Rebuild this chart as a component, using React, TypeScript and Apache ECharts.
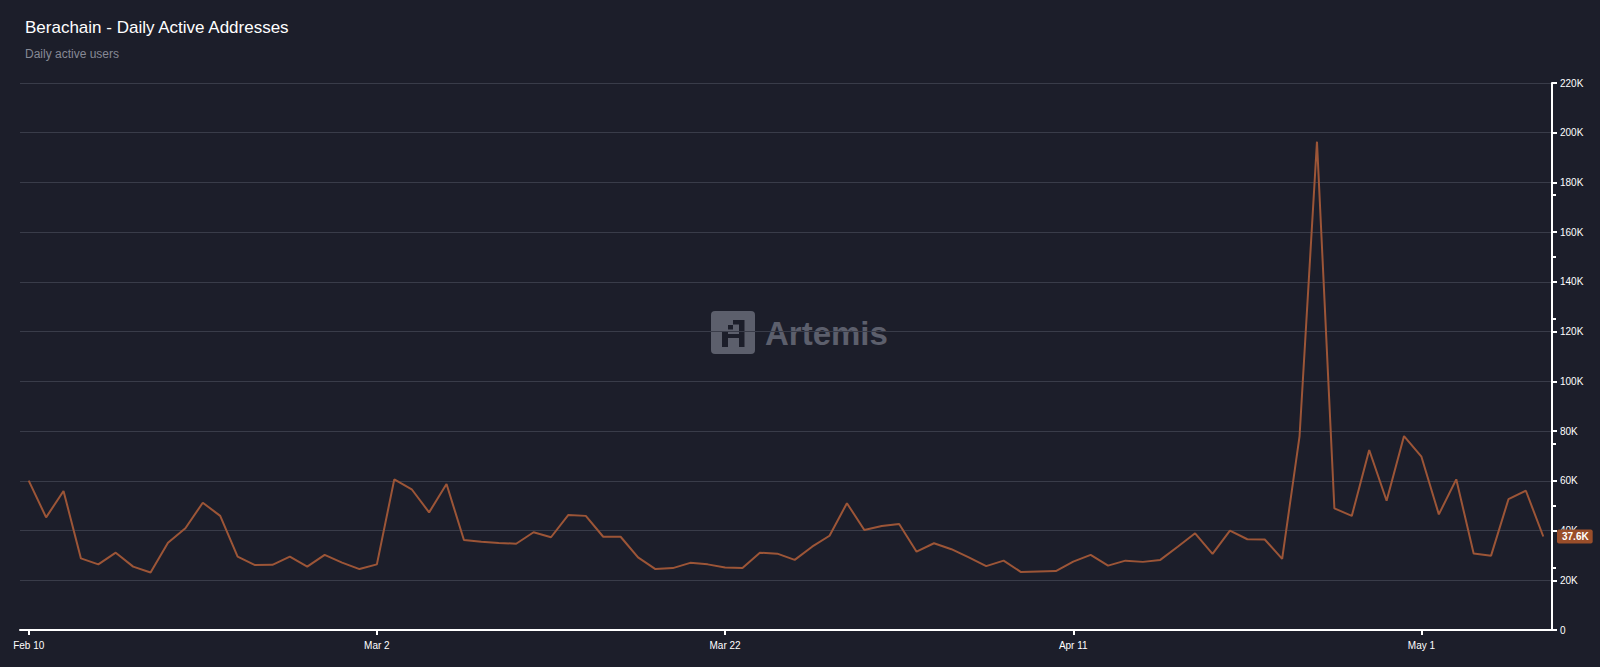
import React, { useEffect, useRef } from "react";
import * as echarts from "echarts";

const startDate = "2025-02-10";
const dayCount = 88;

// Daily active addresses, in thousands
const activeK: number[] = [
  60.1, 45.3, 55.9, 28.8, 26.4, 31.1, 25.5, 23.1, 35.1, 40.9,
  51.2, 45.9, 29.5, 26.1, 26.2, 29.5, 25.5, 30.2, 27.1, 24.5,
  26.4, 60.6, 56.6, 47.3, 58.7, 36.2, 35.5, 35.0, 34.7, 39.3,
  37.3, 46.3, 45.9, 37.5, 37.5, 29.2, 24.5, 24.9, 27.0, 26.4,
  25.1, 24.9, 31.1, 30.7, 28.2, 33.5, 37.9, 51.0, 40.2, 41.8,
  42.6, 31.5, 34.9, 32.5, 29.2, 25.7, 27.9, 23.3, 23.5, 23.7,
  27.5, 30.2, 25.9, 27.9, 27.4, 28.2, 33.5, 38.9, 30.6, 40.0,
  36.5, 36.4, 28.6, 78.0, 196.4, 48.9, 45.9, 72.4, 52.0, 78.0,
  69.7, 46.5, 60.6, 30.8, 29.9, 52.6, 56.0, 37.6,
];

const monthNames = ["Jan", "Feb", "Mar", "Apr", "May", "Jun", "Jul", "Aug", "Sep", "Oct", "Nov", "Dec"];

function buildDates(): string[] {
  const out: string[] = [];
  const d0 = new Date(startDate + "T00:00:00Z");
  for (let i = 0; i < dayCount; i++) {
    const d = new Date(d0.getTime() + i * 86400000);
    out.push(monthNames[d.getUTCMonth()] + " " + d.getUTCDate());
  }
  return out;
}

const dates = buildDates();
const values = activeK.map((v) => Math.round(v * 1000));
const lastValue = values[values.length - 1];

const BG = "#1c1e2a";
const LINE = "#9c5537";
const FONT = "'Liberation Sans', Arial, sans-serif";
const WM = "#5c5f6c";

export default function App() {
  const ref = useRef<HTMLDivElement>(null);
  useEffect(() => {
    if (!ref.current) return;
    const chart = echarts.init(ref.current, undefined, { renderer: "svg" });
    chart.setOption({
      animation: false,
      backgroundColor: BG,
      textStyle: { fontFamily: FONT },
      title: {
        text: "Berachain - Daily Active Addresses",
        subtext: "Daily active users",
        left: 20,
        top: 14,
        itemGap: 12,
        textStyle: { color: "#ffffff", fontSize: 17, fontWeight: "normal", fontFamily: FONT },
        subtextStyle: { color: "#868995", fontSize: 12, fontFamily: FONT },
      },
      grid: { left: 20, right: 48, top: 83, bottom: 37, containLabel: false },
      graphic: [
        {
          type: "group",
          silent: true,
          z: 0,
          children: [
            { type: "rect", shape: { x: 711, y: 311, width: 44, height: 43, r: 4 }, style: { fill: WM } },
            { type: "rect", shape: { x: 739, y: 320, width: 5.5, height: 27 }, style: { fill: BG } },
            { type: "rect", shape: { x: 733, y: 320, width: 11, height: 4.5 }, style: { fill: BG } },
            { type: "rect", shape: { x: 728, y: 325, width: 5, height: 4.5 }, style: { fill: BG } },
            { type: "rect", shape: { x: 722, y: 331, width: 6, height: 16 }, style: { fill: BG } },
            { type: "rect", shape: { x: 722, y: 334, width: 22, height: 4 }, style: { fill: BG } },
            {
              type: "text",
              x: 765,
              y: 333,
              style: {
                text: "Artemis",
                fill: WM,
                font: "bold 33px " + FONT,
                verticalAlign: "middle",
              },
            },
          ],
        },
      ],
      xAxis: {
        type: "category",
        data: dates,
        boundaryGap: true,
        axisLine: { show: true, lineStyle: { color: "#ffffff", width: 2 } },
        axisTick: { show: true, interval: 19, alignWithLabel: true, length: 5, lineStyle: { color: "#ffffff", width: 2 } },
        axisLabel: { interval: 19, color: "#ffffff", fontSize: 10, margin: 10, fontFamily: FONT },
        splitLine: { show: false },
      },
      yAxis: [
        {
          type: "value",
          position: "right",
          min: 0,
          max: 220000,
          interval: 20000,
          axisLine: { show: true, lineStyle: { color: "#ffffff", width: 2 } },
          axisTick: { show: true, length: 5, lineStyle: { color: "#ffffff", width: 2 } },
          axisLabel: {
            color: "#ffffff",
            fontSize: 10,
            margin: 8,
            fontFamily: FONT,
            formatter: (v: number) => (v === 0 ? "0" : v / 1000 + "K"),
          },
          splitLine: { show: true, lineStyle: { color: "#393c49", width: 1 } },
        },
        {
          type: "value",
          position: "right",
          min: 0,
          max: 220000,
          interval: 25000,
          axisLine: { show: false },
          axisTick: { show: true, length: 4, lineStyle: { color: "#ffffff", width: 2 } },
          axisLabel: { show: false },
          splitLine: { show: false },
        },
      ],
      series: [
        {
          type: "line",
          data: values,
          yAxisIndex: 0,
          showSymbol: false,
          symbol: "none",
          lineStyle: { color: LINE, width: 2 },
          itemStyle: { color: LINE },
          z: 3,
          markLine: {
            silent: true,
            symbol: "none",
            lineStyle: { color: "rgba(0,0,0,0)", width: 0 },
            data: [{ yAxis: lastValue }],
            label: {
              show: true,
              position: "end",
              distance: 5,
              formatter: (lastValue / 1000).toFixed(1) + "K",
              color: "#ffffff",
              fontSize: 10,
              fontWeight: "bold",
              backgroundColor: "#9a4e2a",
              padding: [2, 4, 2, 5],
              borderRadius: 2,
              fontFamily: FONT,
            },
          },
        },
        {
          type: "line",
          yAxisIndex: 1,
          data: [],
          showSymbol: false,
        },
      ],
    });
    return () => chart.dispose();
  }, []);
  return (
    <div
      ref={ref}
      style={{ position: "fixed", left: 0, top: 0, width: 1600, height: 667, background: BG }}
    />
  );
}
